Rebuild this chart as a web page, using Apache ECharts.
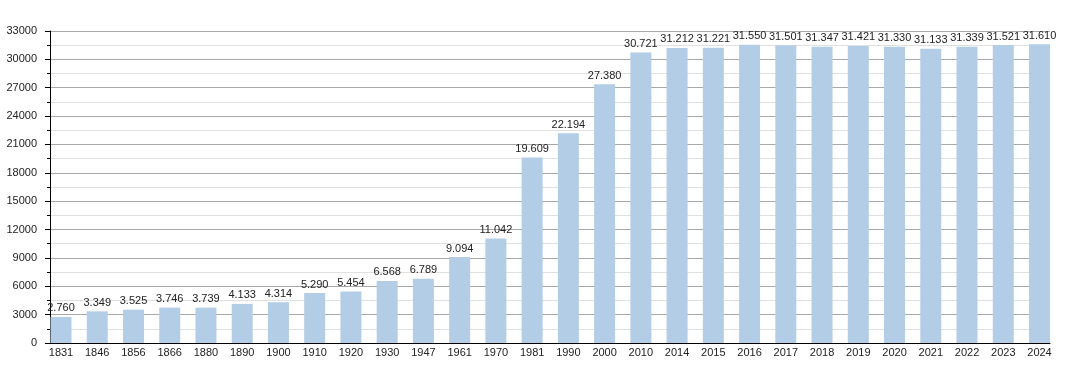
<!DOCTYPE html>
<html>
<head>
<meta charset="utf-8">
<script src="https://cdn.jsdelivr.net/npm/echarts@6/dist/echarts.min.js"></script>
<style>html,body{margin:0;padding:0;background:#fff}#c{width:1080px;height:373px}</style>
</head>
<body>
<div id="c"></div>
<script>
const years = ['1831','1846','1856','1866','1880','1890','1900','1910','1920','1930','1947','1961','1970','1981','1990','2000','2010','2014','2015','2016','2017','2018','2019','2020','2021','2022','2023','2024'];
const population = [2760,3349,3525,3746,3739,4133,4314,5290,5454,6568,6789,9094,11042,19609,22194,27380,30721,31212,31221,31550,31501,31347,31421,31330,31133,31339,31521,31610];
const yMin = 0, yMax = 33000, yStep = 3000;

const fmt = v => String(v).replace(/\B(?=(\d{3})+(?!\d))/g, '.');
const FONT = '"Liberation Sans", Arial, sans-serif';

const chart = echarts.init(document.getElementById('c'), null, {renderer: 'canvas'});
chart.setOption({
  animation: false,
  backgroundColor: '#fff',
  grid: [
    {left: 50, right: 30, top: 31, bottom: 30, containLabel: false},
    {left: 61, right: 40.5, top: 31, bottom: 30, containLabel: false}
  ],
  xAxis: [
    {gridIndex: 0, type: 'category', data: years, boundaryGap: true,
     axisLine: {show: true, lineStyle: {color: '#000', width: 1}},
     axisTick: {show: false}, axisLabel: {show: false}, splitLine: {show: false}},
    {gridIndex: 1, type: 'category', data: years, boundaryGap: false,
     axisLine: {show: false}, axisTick: {show: false},
     axisLabel: {show: true, interval: 0, margin: 4, color: '#222', fontSize: 11, fontFamily: FONT},
     splitLine: {show: false}}
  ],
  yAxis: [
    {gridIndex: 0, type: 'value', min: yMin, max: yMax, interval: yStep,
     axisLine: {show: true, lineStyle: {color: '#000', width: 1}},
     axisTick: {show: true, length: 5, lineStyle: {color: '#000'}},
     minorTick: {show: true, splitNumber: 2, length: 3, lineStyle: {color: '#000'}},
     axisLabel: {margin: 13, color: '#222', fontSize: 11, fontFamily: FONT, formatter: v => String(v)},
     splitLine: {show: true, lineStyle: {color: '#a8a8a8', width: 1}},
     minorSplitLine: {show: true, lineStyle: {color: '#e0e0e0', width: 1}}},
    {gridIndex: 1, type: 'value', min: yMin, max: yMax, interval: yStep, show: false,
     splitLine: {show: false}}
  ],
  series: [{
    type: 'bar',
    xAxisIndex: 1, yAxisIndex: 1,
    z: 10,
    data: population,
    barWidth: 21,
    itemStyle: {color: '#b3cde6'},
    label: {show: true, position: 'top', distance: 3, color: '#222', fontSize: 11, fontFamily: FONT,
            formatter: p => fmt(p.value)}
  }]
});
</script>
</body>
</html>
